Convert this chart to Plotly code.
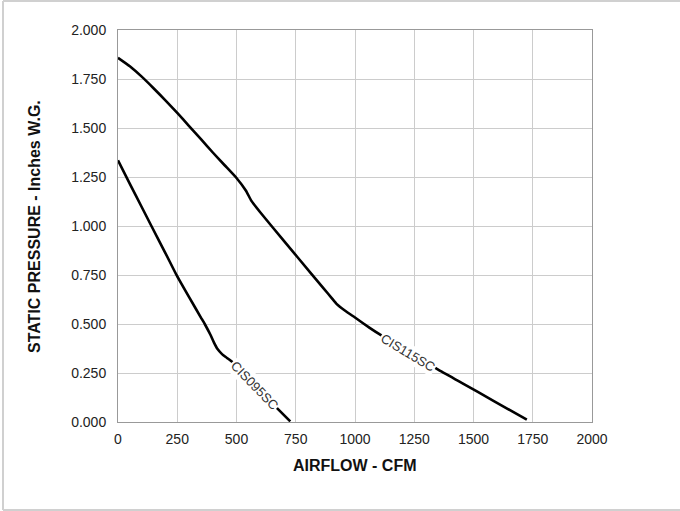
import plotly.graph_objects as go

# CIS095SC fan curve
cis095_cfm = [0, 50, 100, 141, 200, 246, 300, 350, 366, 390, 405, 420, 440, 460, 486, 550, 600, 672, 727]
cis095_sp = [1.335, 1.215, 1.097, 1.0, 0.862, 0.752, 0.637, 0.533, 0.5, 0.445, 0.405, 0.372, 0.345, 0.327, 0.303, 0.223, 0.16, 0.07, 0.003]

# CIS115SC fan curve
cis115_cfm = [0, 50, 100, 150, 200, 250, 300, 350, 400, 450, 500, 540, 563, 600, 700, 816, 870, 900, 921, 960, 1000, 1062, 1108, 1200, 1349, 1450, 1586, 1725]
cis115_sp = [1.858, 1.815, 1.762, 1.703, 1.641, 1.577, 1.51, 1.443, 1.375, 1.31, 1.245, 1.18, 1.128, 1.07, 0.924, 0.756, 0.678, 0.635, 0.604, 0.566, 0.533, 0.48, 0.444, 0.378, 0.268, 0.2, 0.107, 0.012]

x_ticks = [0, 250, 500, 750, 1000, 1250, 1500, 1750, 2000]
y_ticks = [0.0, 0.25, 0.5, 0.75, 1.0, 1.25, 1.5, 1.75, 2.0]

series_names = ["CIS095SC", "CIS115SC"]
label_pos = [(577, 0.187, 46), (1222, 0.356, 31)]

W, H = 680, 511
L, R, T, B = 118, 88, 30, 89
PW, PH = W - L - R, H - T - B

def px(xp):
    return (xp - L) / PW

def py(yp):
    return (H - B - yp) / PH

fig = go.Figure()
for xs, ys, name in [(cis095_cfm, cis095_sp, series_names[0]), (cis115_cfm, cis115_sp, series_names[1])]:
    fig.add_trace(go.Scatter(x=xs, y=ys, mode="lines", name=name,
                             line=dict(color="#000000", width=2.6, shape="spline", smoothing=0.4),
                             showlegend=False, hoverinfo="skip"))

for name, (lx, ly, ang) in zip(series_names, label_pos):
    fig.add_annotation(x=lx, y=ly, xref="x", yref="y", text=name, showarrow=False,
                       textangle=ang, bgcolor="#ffffff", borderpad=1,
                       font=dict(family="Arial, Liberation Sans", size=13, color="#333333"))

font_ticks = dict(family="Arial, Liberation Sans", size=14, color="#222222")
fig.update_xaxes(range=[0, 2000], tickvals=x_ticks, ticktext=[str(v) for v in x_ticks],
                 showgrid=True, gridcolor="#cccccc", gridwidth=1, zeroline=False,
                 showline=True, linecolor="#999999", linewidth=1, mirror=True,
                 tickfont=font_ticks, ticks="", ticklabelstandoff=4)
fig.update_yaxes(range=[0, 2.0], tickvals=y_ticks, ticktext=[f"{v:.3f}" for v in y_ticks],
                 showgrid=True, gridcolor="#cccccc", gridwidth=1, zeroline=False,
                 showline=True, linecolor="#999999", linewidth=1, mirror=True,
                 tickfont=font_ticks, ticks="", ticklabelstandoff=8)

title_font = dict(family="Arial, Liberation Sans", size=16, color="#111111")
fig.add_annotation(x=px(355), y=py(465), xref="paper", yref="paper", text="<b>AIRFLOW - CFM</b>",
                   showarrow=False, font=title_font, xanchor="center", yanchor="middle")
fig.add_annotation(x=px(34), y=py(227), xref="paper", yref="paper",
                   text="<b>STATIC PRESSURE - Inches W.G.</b>", textangle=-90,
                   showarrow=False, font=title_font, xanchor="center", yanchor="middle")

# outer frame (left, top, bottom edges)
frame = dict(color="#d0d0d0", width=2)
fig.add_shape(type="line", xref="paper", yref="paper", x0=px(3), x1=px(3), y0=py(1), y1=py(510), line=frame)
fig.add_shape(type="line", xref="paper", yref="paper", x0=px(3), x1=px(681), y0=py(1), y1=py(1), line=frame)
fig.add_shape(type="line", xref="paper", yref="paper", x0=px(3), x1=px(681), y0=py(510), y1=py(510), line=frame)

fig.update_layout(width=W, height=H, margin=dict(l=L, r=R, t=T, b=B),
                  paper_bgcolor="#ffffff", plot_bgcolor="#ffffff")

fig.write_html("out.html", config={"displayModeBar": False},
               post_script="document.body.style.margin='0';document.body.style.overflow='hidden';")
